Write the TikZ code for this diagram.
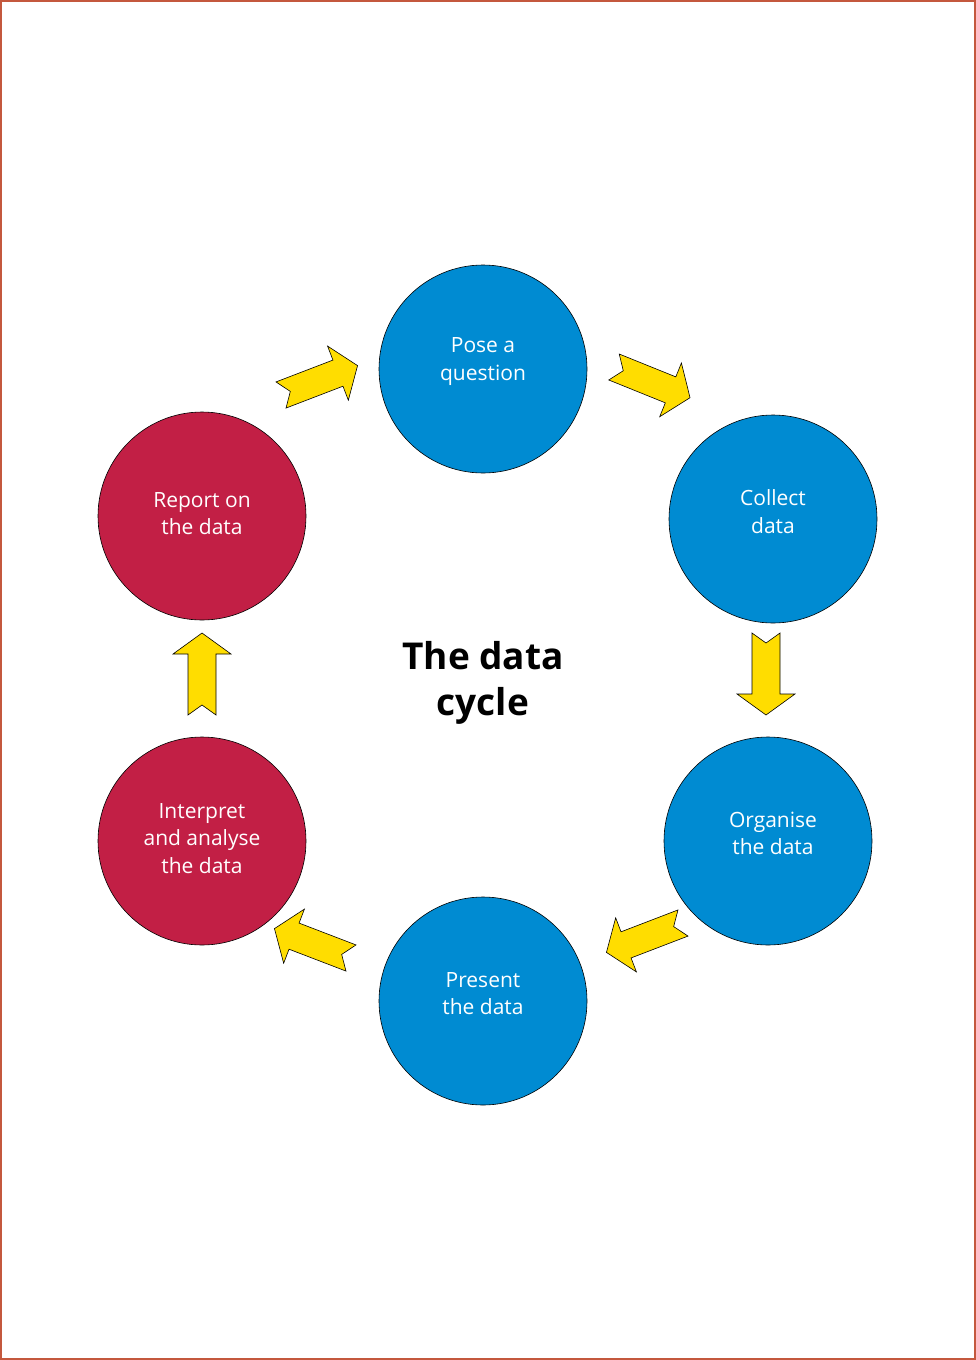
\documentclass[tikz,border=0pt]{standalone}
\usepackage{fontspec}
\setmainfont{Open Sans}
\definecolor{cycleblue}{RGB}{0,139,210}
\definecolor{cyclered}{RGB}{194,31,69}
\definecolor{arrowyellow}{RGB}{255,221,0}
\definecolor{frameorange}{RGB}{196,88,62}

\tikzset{every picture/.style={line width=0.75pt}}
\tikzset{
  stage/.style={circle, draw=black, line width=0.6pt, minimum size=208pt, inner sep=0pt},
  bluestage/.style={stage, fill=cycleblue},
  redstage/.style={stage, fill=cyclered},
  stagetext/.style={text=white, align=center, yshift=7.5pt, font=\fontsize{21}{27.5}\selectfont},
  redtext/.style={stagetext, yshift=-5pt},
  pics/blockarrow/.style={code={
    \draw[fill=arrowyellow, draw=black, line width=0.6pt, line join=miter]
      (0,-14) -- (61,-14) -- (61,-29) -- (82,0) -- (61,29) -- (61,14) -- (0,14) -- (10,0) -- cycle;
  }}
}

\begin{document}
\begin{tikzpicture}[x=1pt,y=1pt,yscale=-1,xscale=1]
\useasboundingbox (0,0) rectangle (976,1360);

%Frame
\draw [color=frameorange, line width=1.8pt] (1,1) rectangle (975,1359);

%Stages
\node [bluestage, label={[stagetext]center:Pose a\\question}] (pose) at (483,369) {};
\node [bluestage, label={[stagetext]center:Collect\\data}] (collect) at (773,519) {};
\node [bluestage, label={[stagetext, xshift=5pt]center:Organise\\the data}] (organise) at (768,841) {};
\node [bluestage, label={[stagetext]center:Present\\the data}] (present) at (483,1001) {};
\node [redstage, label={[redtext]center:Interpret\\and analyse\\the data}] (interpret) at (202,841) {};
\node [redstage, label={[redtext]center:Report on\\the data}] (report) at (202,516) {};

%Arrow tails
\coordinate (t1) at (614,367);
\coordinate (t2) at (766,633);
\coordinate (t3) at (683,923);
\coordinate (t4) at (351,958);
\coordinate (t5) at (202,715);
\coordinate (t6) at (281,395);

%Arrows
\pic [rotate=-22] at (t1) {blockarrow};
\pic [rotate=-90] at (t2) {blockarrow};
\pic [rotate=-159] at (t3) {blockarrow};
\pic [rotate=-201] at (t4) {blockarrow};
\pic [rotate=-270] at (t5) {blockarrow};
\pic [rotate=21] at (t6) {blockarrow};

% Text Node
\node [align=center, font=\fontsize{37}{46}\selectfont\bfseries] (title) at (483,683) {The data\\cycle};

\end{tikzpicture}
\end{document}
